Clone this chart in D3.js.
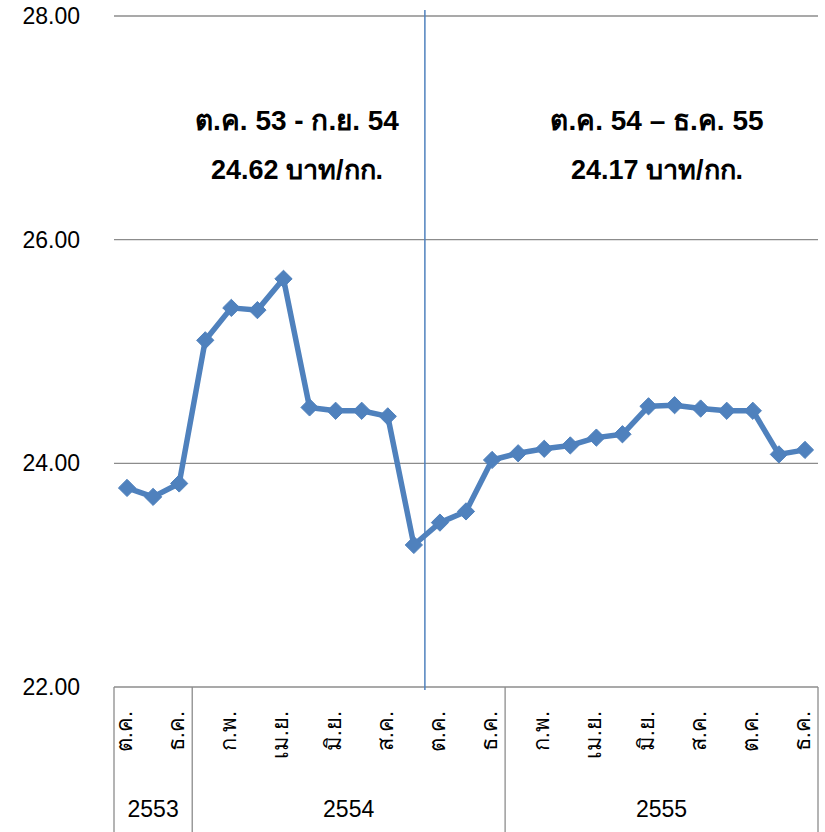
<!DOCTYPE html>
<html>
<head>
<meta charset="utf-8">
<script src="https://cdn.jsdelivr.net/npm/d3@7"></script>
<style>
  body { margin: 0; background: #fff; }
  text { font-family: "Liberation Sans", Arial, "Noto Sans", sans-serif; }
</style>
</head>
<body>
<svg id="chart"></svg>
<script>
// month labels (every month; only every other one is shown)
const months = ['ต.ค.', 'พ.ย.', 'ธ.ค.',
  'ม.ค.', 'ก.พ.', 'มี.ค.', 'เม.ย.', 'พ.ค.', 'มิ.ย.', 'ก.ค.', 'ส.ค.', 'ก.ย.', 'ต.ค.', 'พ.ย.', 'ธ.ค.',
  'ม.ค.', 'ก.พ.', 'มี.ค.', 'เม.ย.', 'พ.ค.', 'มิ.ย.', 'ก.ค.', 'ส.ค.', 'ก.ย.', 'ต.ค.', 'พ.ย.', 'ธ.ค.']
const prices = [23.78, 23.70, 23.82,
  25.10, 25.39, 25.37, 25.65, 24.50, 24.47, 24.47, 24.42, 23.27, 23.47, 23.57, 24.03,
  24.09, 24.13, 24.16, 24.23, 24.26, 24.51, 24.52, 24.49, 24.47, 24.47, 24.08, 24.12]
const years = [
  { label: '2553', start: 0, count: 3 },
  { label: '2554', start: 3, count: 12 },
  { label: '2555', start: 15, count: 12 }
]
const yTicks = [22, 24, 26, 28]
const periods = [
  { from: 0, to: 12, line1: 'ต.ค. 53 - ก.ย. 54', value: '24.62', unit: ' บาท/กก.' },
  { from: 12, to: 27, line1: 'ต.ค. 54 – ธ.ค. 55', value: '24.17', unit: ' บาท/กก.' }
]

const width = 825
const height = 832
const margin = { left: 114, right: 7, top: 16 }
const plotBottom = 687
const blue = '#4f81bd'
const grid = '#8c8c8c'

const svg = d3.select('#chart').attr('width', width).attr('height', height)

const idx = d3.range(prices.length)
const x = d3.scaleBand()
  .domain(idx)
  .range([margin.left, width - margin.right])
const y = d3.scaleLinear()
  .domain([22, 28])
  .range([plotBottom, margin.top])

// gridlines
svg.append('g')
  .selectAll('line')
  .data(yTicks)
  .join('line')
  .attr('x1', margin.left)
  .attr('x2', width - margin.right)
  .attr('y1', d => y(d))
  .attr('y2', d => y(d))
  .attr('stroke', grid)
  .attr('stroke-width', 1.3)

// y labels
svg.append('g')
  .selectAll('text')
  .data(yTicks)
  .join('text')
  .attr('x', 80)
  .attr('y', d => y(d))
  .attr('dy', '0.35em')
  .attr('text-anchor', 'end')
  .attr('font-size', 23)
  .attr('fill', '#000')
  .text(d => d.toFixed(2))

// year boxes (vertical separators under the axis)
const seps = [0].concat(years.map(yr => yr.start + yr.count))
svg.append('g')
  .selectAll('line')
  .data(seps)
  .join('line')
  .attr('x1', d => d < prices.length ? x(d) : x.range()[1])
  .attr('x2', d => d < prices.length ? x(d) : x.range()[1])
  .attr('y1', plotBottom)
  .attr('y2', height)
  .attr('stroke', grid)
  .attr('stroke-width', 1.3)

svg.append('g')
  .selectAll('text')
  .data(years)
  .join('text')
  .attr('x', d => (x(d.start) + x(d.start + d.count - 1) + x.bandwidth()) / 2)
  .attr('y', 817)
  .attr('text-anchor', 'middle')
  .attr('font-size', 23)
  .attr('fill', '#000')
  .text(d => d.label)

// month labels, rotated
svg.append('g')
  .selectAll('text')
  .data(idx.filter(i => i % 2 === 0))
  .join('text')
  .attr('transform', i => `translate(${x(i) + x.bandwidth() / 2 + 5},711) rotate(-90)`)
  .attr('text-anchor', 'end')
  .attr('font-size', 22)
  .attr('fill', '#000')
  .text(i => months[i])

// period divider
svg.append('line')
  .attr('x1', x(12) - 2)
  .attr('x2', x(12) - 2)
  .attr('y1', 10)
  .attr('y2', 690)
  .attr('stroke', blue)
  .attr('stroke-width', 1.5)

// period annotations
const ann = svg.append('g')
  .selectAll('g')
  .data(periods)
  .join('g')
  .attr('transform', d => {
    const cx = d.from === 0 ? 297 : 657
    return `translate(${cx},0)`
  })
ann.append('text')
  .attr('y', 130)
  .attr('text-anchor', 'middle')
  .attr('font-size', 28)
  .attr('font-weight', 'bold')
  .text(d => d.line1)
ann.append('text')
  .attr('y', 179)
  .attr('text-anchor', 'middle')
  .attr('font-size', 27)
  .attr('font-weight', 'bold')
  .text(d => d.value + d.unit)

// line
const cx = i => x(i) + x.bandwidth() / 2
svg.append('path')
  .datum(idx)
  .attr('fill', 'none')
  .attr('stroke', blue)
  .attr('stroke-width', 5.5)
  .attr('stroke-linejoin', 'round')
  .attr('d', d3.line().x(cx).y(i => y(prices[i])))

// diamond markers
svg.append('g')
  .selectAll('path')
  .data(idx)
  .join('path')
  .attr('transform', i => `translate(${cx(i)},${y(prices[i])})`)
  .attr('d', d3.symbol(d3.symbolDiamond2, 190))
  .attr('fill', blue)
  .attr('stroke', blue)
  .attr('stroke-width', 1)
</script>
</body>
</html>
